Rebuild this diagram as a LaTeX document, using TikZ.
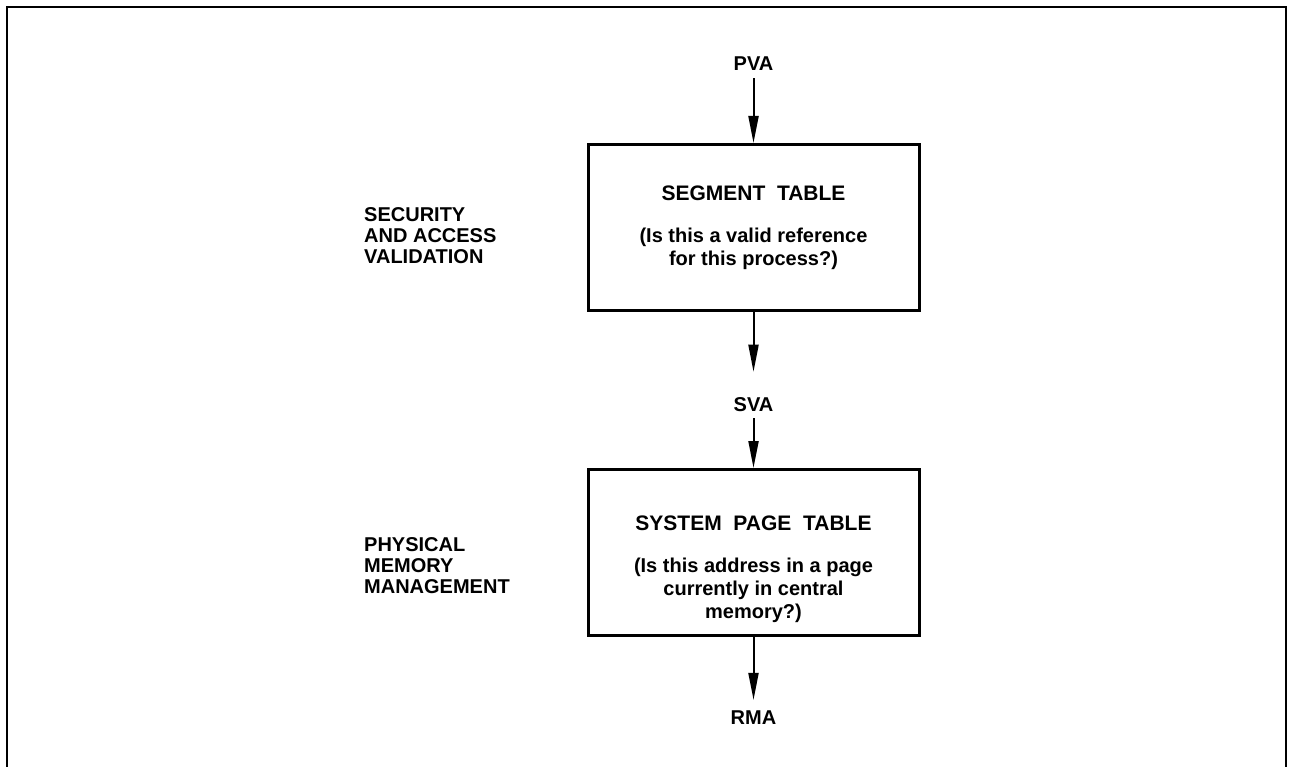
\documentclass[tikz,border=0pt]{standalone}
\usepackage{fontspec}
\setmainfont{Liberation Sans}
\usetikzlibrary{arrows.meta}
\begin{document}
\begin{tikzpicture}[x=1pt,y=-1pt,
  frame/.style={line width=2.5pt},
  tablebox/.style={draw, line width=3pt, minimum width=331pt, minimum height=166pt, inner sep=0pt},
  addr/.style={inner sep=0pt, font=\fontsize{20}{21}\selectfont\bfseries},
  side/.style={inner sep=0pt, anchor=west, align=left, font=\fontsize{20}{21}\selectfont\bfseries},
  title/.style={inner sep=0pt, font=\fontsize{21}{23}\selectfont\bfseries},
  query/.style={inner sep=0pt, align=center, font=\fontsize{20}{23}\selectfont\bfseries},
  flow/.style={line width=2pt, -{Triangle[length=27pt,width=10pt]}}]
  \useasboundingbox (0,0) rectangle (1293,767);
  % open frame around the figure
  \draw[frame] (7,767) -- (7,7) -- (1286,7) -- (1286,767);

  % address labels
  \node[addr] (pva) at (753.5,63.5) {PVA};
  \node[addr] (sva) at (753.5,405) {SVA};
  \node[addr] (rma) at (753.5,718) {RMA};

  % translation tables
  \node[tablebox] (seg) at (753.5,227.5) {};
  \node[title] (segt) at (753.5,193) {SEGMENT\ \ TABLE};
  \node[query] (segq) at (753.5,249) {(Is this a valid reference\\for this process?)};

  \node[tablebox] (spt) at (753.5,552.5) {};
  \node[title] (sptt) at (753.5,523) {SYSTEM\ \ PAGE\ \ TABLE};
  \node[query] (sptq) at (753.5,590) {(Is this address in a page\\currently in central\\memory?)};

  % stage captions
  \node[side] (sec) at (364,236) {SECURITY\\AND ACCESS\\VALIDATION};
  \node[side] (phy) at (364,566) {PHYSICAL\\MEMORY\\MANAGEMENT};

  % address flow
  \draw[flow, shorten <=7.5pt] (pva) -- (seg);
  \draw[flow, shorten >=26pt] (seg) -- (sva);
  \draw[flow, shorten <=6pt] (sva) -- (spt);
  \draw[flow, shorten >=11pt] (spt) -- (rma);
\end{tikzpicture}
\end{document}
